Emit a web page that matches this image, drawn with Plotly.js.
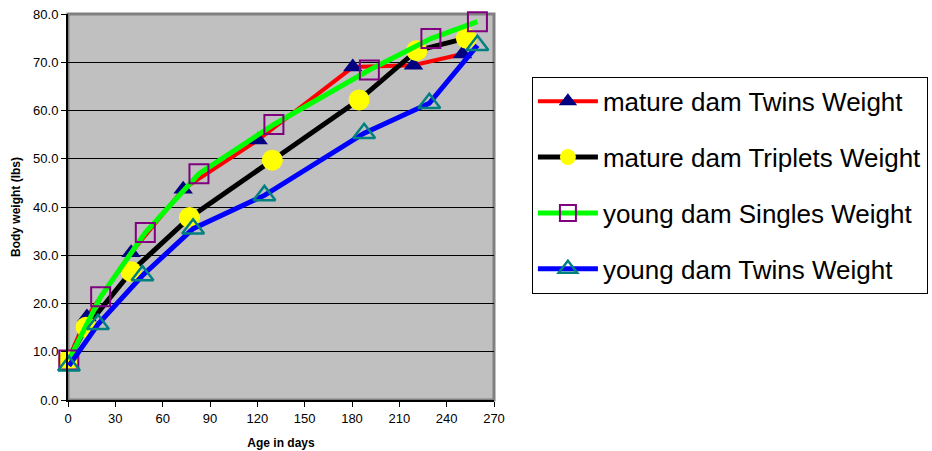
<!DOCTYPE html>
<html>
<head>
<meta charset="utf-8">
<script src="https://cdn.plot.ly/plotly-3.0.1.min.js"></script>
<style>
  html, body { margin: 0; padding: 0; background: #ffffff; }
  #chart { width: 932px; height: 451px; }
</style>
</head>
<body>
<div id="chart"></div>
<script>
// Lamb body weight (lbs) by age in days, per dam age / litter type
const matureTwinsDays = [0, 12, 40, 73, 120.5, 180.5, 219, 250];
const matureTwinsWt   = [8.3, 17.2, 30.5, 43.7, 53.9, 69.0, 69.4, 71.7];

const matureTripletsDays = [0, 11.5, 40, 77, 129.5, 184.5, 221, 252.5];
const matureTripletsWt   = [8.2, 15.1, 26.6, 37.8, 49.7, 62.2, 72.4, 75.0];

const youngSinglesDays = [0.5, 20.7, 49, 83, 130.5, 191, 230, 259.5];
const youngSinglesWt   = [8.3, 21.4, 34.7, 46.9, 57.1, 68.4, 74.9, 78.4];

const youngTwinsDays = [0.6, 19, 47.2, 79.3, 124.5, 187.7, 229, 259.5];
const youngTwinsWt   = [7.1, 15.7, 25.8, 35.5, 42.4, 55.3, 61.5, 73.5];

const seriesNames = [
  'mature dam Twins Weight',
  'mature dam Triplets Weight',
  'young dam Singles Weight',
  'young dam Twins Weight'
];

const FONT = 'Liberation Sans, Arial, sans-serif';

const traces = [
  {
    x: matureTwinsDays, y: matureTwinsWt, name: seriesNames[0], legendgroup: 'g1',
    mode: 'lines+markers', type: 'scatter', cliponaxis: false,
    line: { color: '#FF0000', width: 4 },
    marker: { symbol: 'triangle-up', size: 17, color: '#000080', line: { width: 0 } }
  },
  {
    x: matureTripletsDays, y: matureTripletsWt, name: seriesNames[1], legendgroup: 'g2',
    mode: 'lines+markers', type: 'scatter', cliponaxis: false,
    line: { color: '#000000', width: 5 },
    marker: { symbol: 'circle', size: 21, color: '#FFFF00', line: { width: 0 } }
  },
  {
    x: youngSinglesDays, y: youngSinglesWt, name: seriesNames[2], legendgroup: 'g3',
    mode: 'lines+markers', type: 'scatter', cliponaxis: false,
    line: { color: '#00FF00', width: 5 },
    marker: { symbol: 'square-open', size: 19, color: '#800080', line: { width: 2, color: '#800080' } }
  },
  {
    x: youngTwinsDays, y: youngTwinsWt, name: seriesNames[3], legendgroup: 'g4',
    mode: 'lines+markers', type: 'scatter', cliponaxis: false,
    line: { color: '#0000FF', width: 5 },
    marker: { symbol: 'triangle-up-open', size: 19, color: '#008080', line: { width: 2.5, color: '#008080' } }
  }
];

const layout = {
  width: 932,
  height: 451,
  margin: { l: 68, r: 438, t: 14, b: 51, autoexpand: false },
  paper_bgcolor: '#FFFFFF',
  plot_bgcolor: '#C0C0C0',
  font: { family: FONT, size: 13, color: '#000000' },
  showlegend: true,
  legend: {
    x: 1.089, xanchor: 'left',
    y: 0.837, yanchor: 'top',
    bgcolor: '#FFFFFF',
    bordercolor: '#000000',
    borderwidth: 1,
    font: { family: FONT, size: 26, color: '#000000' },
    traceorder: 'grouped',
    tracegroupgap: 19,
    itemwidth: 60
  },
  xaxis: {
    range: [0, 270],
    tickvals: [0, 30, 60, 90, 120, 150, 180, 210, 240, 270],
    ticks: 'outside', ticklen: 5, tickwidth: 1, tickcolor: '#000000',
    showline: true, linecolor: '#000000', linewidth: 2,
    showgrid: false, zeroline: false,
    tickfont: { family: FONT, size: 13 },
    title: { text: 'Age in days', font: { family: FONT, size: 12, weight: 'bold' }, standoff: 14 }
  },
  yaxis: {
    range: [0, 80],
    tickvals: [0, 10, 20, 30, 40, 50, 60, 70, 80],
    tickformat: '.1f',
    ticks: 'outside', ticklen: 5, tickwidth: 1, tickcolor: '#000000',
    showline: true, linecolor: '#000000', linewidth: 2,
    showgrid: true, gridcolor: '#000000', gridwidth: 1,
    zeroline: false,
    tickfont: { family: FONT, size: 13 },
    title: { text: 'Body weight (lbs)', font: { family: FONT, size: 12, weight: 'bold' }, standoff: 10 }
  },
  shapes: [
    {
      type: 'rect', xref: 'paper', yref: 'paper',
      x0: 0, x1: 1, y0: 0, y1: 1,
      line: { color: '#808080', width: 3 },
      fillcolor: 'rgba(0,0,0,0)',
      layer: 'between'
    }
  ]
};

Plotly.newPlot('chart', traces, layout, { displayModeBar: false, staticPlot: true });
</script>
</body>
</html>
